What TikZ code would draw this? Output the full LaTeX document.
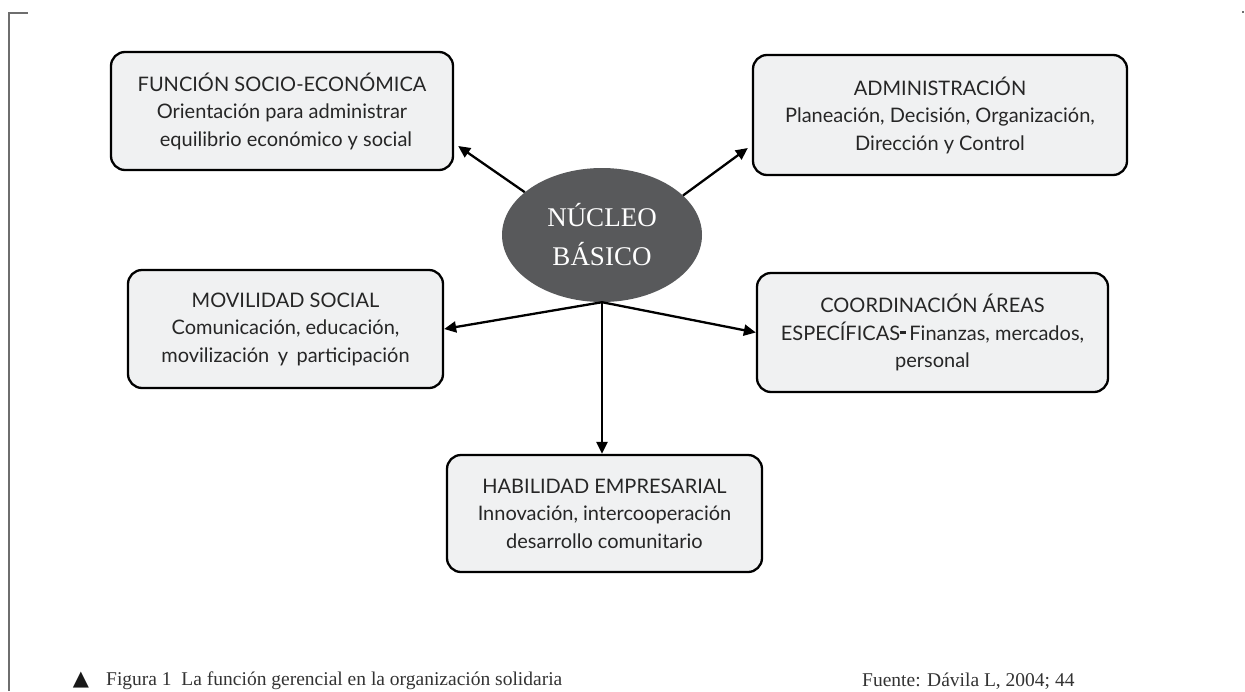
\documentclass[tikz,border=0pt]{standalone}
\usepackage{fontspec}
\usetikzlibrary{arrows.meta,shapes.geometric,calc}
\newfontfamily\boxfont{Lato}
\newfontfamily\serifA{Liberation Serif}
\newfontfamily\symfont{DejaVu Sans}
\definecolor{boxfill}{HTML}{F0F1F2}
\definecolor{nucfill}{HTML}{58595B}
\definecolor{framegray}{HTML}{6E6E6E}
\definecolor{captxt}{HTML}{333333}
\tikzset{
  topicbox/.style={draw=black, line width=2.3pt, fill=boxfill, rounded corners=14pt,
    inner sep=0pt, align=center, text=black!85,
    font=\boxfont\fontsize{20}{27.5}\selectfont},
  nucleus/.style={ellipse, fill=nucfill, draw=none, inner sep=0pt,
    minimum width=200pt, minimum height=134pt, text=white, align=center,
    font=\serifA\fontsize{27}{39}\selectfont},
  arr/.style={draw=black, line width=2.3pt, -{Triangle[length=12pt,width=11pt]}},
  captxt/.style={inner sep=0pt, text=captxt, font=\serifA\fontsize{19.5}{22}\selectfont}
}
\begin{document}
\begin{tikzpicture}[x=1pt,y=-1pt]
\useasboundingbox (0,0) rectangle (1245,691);
% frame
\draw[framegray, line width=1.8pt] (9,691) -- (9,13) -- (28,13);
\fill[framegray] (1242,11) rectangle (1244,13);
% nucleus
\node[nucleus] (nuc) at (602,235) {NÚCLEO\\BÁSICO};
% boxes
\node[topicbox, minimum width=342pt, minimum height=118pt] (f1) at (282,111)
  {FUNCIÓN SOCIO-ECONÓMICA\\Orientación para administrar\\\hspace{8pt}equilibrio económico y social};
\node[topicbox, minimum width=374pt, minimum height=120pt] (f2) at (940,115)
  {ADMINISTRACIÓN\\Planeación, Decisión, Organización,\\Dirección y Control};
\node[topicbox, minimum width=315pt, minimum height=118pt] (f3) at (285.5,329)
  {MOVILIDAD SOCIAL\hspace{6pt}\\Comunicación, educación,\\movilización\, y\, participación};
\node[topicbox, minimum width=351pt, minimum height=119pt] (f4) at (932.5,332.5)
  {COORDINACIÓN ÁREAS\\ESPECÍFICAS\rule[0.32em]{6pt}{2.2pt}\,Finanzas, mercados,\\personal};
\node[topicbox, minimum width=315pt, minimum height=117pt] (f5) at (604.5,513.5)
  {HABILIDAD EMPRESARIAL\\Innovación, intercooperación\\desarrollo comunitario};
% arrows
\draw[arr] (nuc.151) -- ([xshift=4pt,yshift=-35pt]f1.east);
\draw[arr] (nuc.26) -- ([xshift=-4pt,yshift=-33pt]f2.west);
\draw[arr] (nuc.south) -- (f3.east);
\draw[arr] (nuc.south) -- (f4.west);
\draw[arr] (nuc.south) -- (nuc.south |- f5.north);
% caption
\node[inner sep=0pt, text=black!90, font=\symfont\fontsize{21}{21}\selectfont] (tri) at (81,680) {▲};
\node[captxt, anchor=west] (cap) at (106,681) {Figura 1\enspace La función gerencial en la organización solidaria};
\node[captxt, anchor=west] (src) at (862,681) {Fuente: Dávila L, 2004; 44};
\end{tikzpicture}
\end{document}
